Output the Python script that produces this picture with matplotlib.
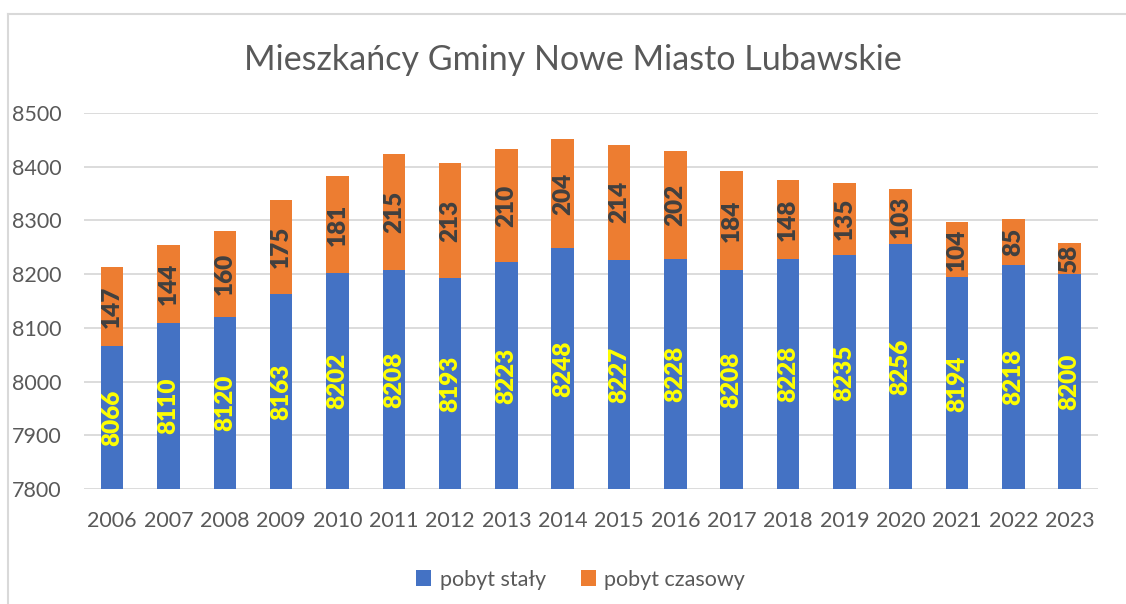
import numpy as np
import matplotlib.pyplot as plt
from matplotlib.lines import Line2D

# Dane
lata = ["2006", "2007", "2008", "2009", "2010", "2011", "2012", "2013", "2014",
        "2015", "2016", "2017", "2018", "2019", "2020", "2021", "2022", "2023"]
pobyt_staly = [8066, 8110, 8120, 8163, 8202, 8208, 8193, 8223, 8248,
               8227, 8228, 8208, 8228, 8235, 8256, 8194, 8218, 8200]
pobyt_czasowy = [147, 144, 160, 175, 181, 215, 213, 210, 204,
                 214, 202, 184, 148, 135, 103, 104, 85, 58]

plt.rcParams['font.family'] = ['Lato', 'DejaVu Sans']

fig = plt.figure(figsize=(11.26, 6.04), dpi=100)
ax = fig.add_axes([0.0746, 0.190, 0.9004, 0.623])

ymin = 7800
x = np.arange(len(lata))
staly = np.array(pobyt_staly)
czas = np.array(pobyt_czasowy)

ax.bar(x, staly - ymin, bottom=ymin, width=0.4, color="#4472C4", label="pobyt stały", zorder=2)
ax.bar(x, czas, bottom=staly, width=0.4, color="#ED7D31", label="pobyt czasowy", zorder=2)

for i in range(len(x)):
    ax.text(x[i], (ymin + staly[i]) / 2, str(staly[i]), rotation=90, ha="center", va="center",
            color="#FFFF00", fontsize=17.5, fontweight="heavy", zorder=3)
    ax.text(x[i], staly[i] + czas[i] / 2, str(czas[i]), rotation=90, ha="center", va="center",
            color="#404040", fontsize=17.5, fontweight="heavy", zorder=3)

ax.set_ylim(7800, 8500)
ax.set_xlim(-0.5, len(x) - 0.5)
ax.set_yticks(np.arange(7800, 8501, 100))
ax.set_xticks(x)
ax.set_xticklabels(lata)
ax.tick_params(axis="both", length=0, labelsize=15.5, colors="#595959")
ax.tick_params(axis="x", pad=16)
ax.tick_params(axis="y", pad=16)
ax.grid(axis="y", color="#D9D9D9", linewidth=1.3, zorder=0)
ax.set_axisbelow(True)
for s in ax.spines.values():
    s.set_visible(False)

fig.text(0.509, 0.90, "Mieszkańcy Gminy Nowe Miasto Lubawskie", ha="center", va="center",
         fontsize=24.5, color="#595959")

ax.legend(loc="center", bbox_to_anchor=(0.49, -0.24), ncol=2, frameon=False,
          fontsize=15.5, labelcolor="#595959", handlelength=0.7, handleheight=0.7,
          columnspacing=1.6, handletextpad=0.4)

# ramka
fig.add_artist(Line2D([8 / 1126, 1], [1 - 14 / 604, 1 - 14 / 604], color="#D9D9D9", linewidth=1.5))
fig.add_artist(Line2D([8 / 1126, 8 / 1126], [0, 1 - 14 / 604], color="#D9D9D9", linewidth=1.5))

plt.savefig("out.png", dpi=100)
